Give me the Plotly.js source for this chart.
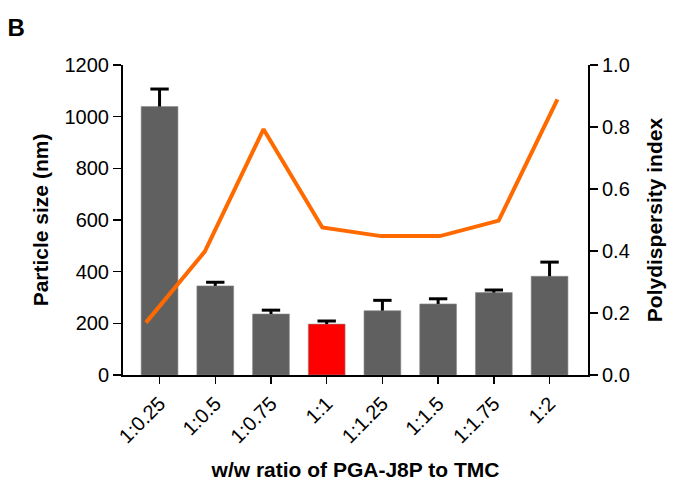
<!DOCTYPE html>
<html>
<head>
<meta charset="utf-8">
<script src="https://cdn.plot.ly/plotly-3.0.1.min.js"></script>
<style>html,body{margin:0;padding:0;background:#fff;}#chart{width:674px;height:486px;}</style>
</head>
<body>
<div id="chart"></div>
<script>
var categories = ["1:0.25","1:0.5","1:0.75","1:1","1:1.25","1:1.5","1:1.75","1:2"];
var particleSize = [1039, 345, 236, 197, 249, 275, 319, 382];
var particleErr = [68, 14, 15, 12, 40, 20, 10, 55];
var pdi = [0.169, 0.398, 0.793, 0.476, 0.448, 0.448, 0.498, 0.889];
var sizeTicks = [0, 200, 400, 600, 800, 1000, 1200];
var pdiTicks = [0, 0.2, 0.4, 0.6, 0.8, 1.0];
var pdiTickText = ["0.0","0.2","0.4","0.6","0.8","1.0"];

var idx = categories.map(function(c, i){ return i; });
var barColors = categories.map(function(c){ return c === "1:1" ? "#ff0000" : "#606060"; });

// one-sided (upper) error bars built from the data arrays
var capHalf = 0.165; // in category units
var errX = [], errY = [];
idx.forEach(function(i){
  var top = particleSize[i] + particleErr[i];
  errX.push(i, i, null, i - capHalf, i + capHalf, null);
  errY.push(particleSize[i], top, null, top, top, null);
});

var font = "Liberation Sans, Arial, sans-serif";

var traces = [
  {
    type: "bar",
    x: idx,
    y: particleSize,
    width: 0.66,
    marker: {color: barColors, line: {color: "#8a8a8a", width: 0.6}},
    xaxis: "x", yaxis: "y",
    hoverinfo: "skip"
  },
  {
    type: "scatter",
    mode: "lines",
    x: errX,
    y: errY,
    line: {color: "#000", width: 3},
    connectgaps: false,
    xaxis: "x", yaxis: "y",
    hoverinfo: "skip"
  },
  {
    type: "scatter",
    mode: "lines",
    x: idx,
    y: pdi,
    line: {color: "#ff6a00", width: 4},
    xaxis: "x2", yaxis: "y2",
    hoverinfo: "skip"
  }
];

var layout = {
  width: 674, height: 486,
  margin: {l: 123, r: 86, t: 65, b: 111, pad: 0},
  paper_bgcolor: "#fff", plot_bgcolor: "#fff",
  showlegend: false,
  font: {family: font, color: "#000", size: 20},
  title: {text: "<b>B</b>", x: 0.011, xanchor: "left", xref: "container",
          y: 0.944, yanchor: "middle", yref: "container",
          font: {family: font, size: 24, color: "#000"}},
  xaxis: {
    range: [-0.656, 7.69],
    tickmode: "array", tickvals: idx, ticktext: categories,
    tickangle: -45,
    ticks: "outside", ticklen: 7, tickwidth: 1.5, tickcolor: "#000",
    showline: true, linecolor: "#000", linewidth: 2,
    showgrid: false, zeroline: false,
    tickfont: {family: font, size: 20, color: "#000"},
    title: {text: "<b>w/w ratio of PGA-J8P to TMC</b>", font: {family: font, size: 21, color: "#000"}, standoff: 16},
    fixedrange: true
  },
  xaxis2: {
    range: [-0.391, 7.52],
    overlaying: "x", visible: false, showgrid: false, zeroline: false
  },
  yaxis: {
    range: [0, 1200],
    tickmode: "array", tickvals: sizeTicks,
    ticks: "outside", ticklen: 8, tickwidth: 1.5, tickcolor: "#000",
    showline: true, linecolor: "#000", linewidth: 2,
    showgrid: false, zeroline: false,
    tickfont: {family: font, size: 20, color: "#000"},
    title: {text: "<b>Particle size (nm)</b>", font: {family: font, size: 21, color: "#000"}, standoff: 10},
    fixedrange: true
  },
  yaxis2: {
    range: [0, 1.0],
    overlaying: "y", side: "right",
    tickmode: "array", tickvals: pdiTicks, ticktext: pdiTickText,
    ticks: "outside", ticklen: 8, tickwidth: 1.5, tickcolor: "#000",
    showline: true, linecolor: "#000", linewidth: 2,
    showgrid: false, zeroline: false,
    tickfont: {family: font, size: 20, color: "#000"},
    title: {text: "<b>Polydispersity index</b>", font: {family: font, size: 21, color: "#000"}, standoff: 18},
    fixedrange: true
  }
};

Plotly.newPlot("chart", traces, layout, {displayModeBar: false, staticPlot: true});
</script>
</body>
</html>
